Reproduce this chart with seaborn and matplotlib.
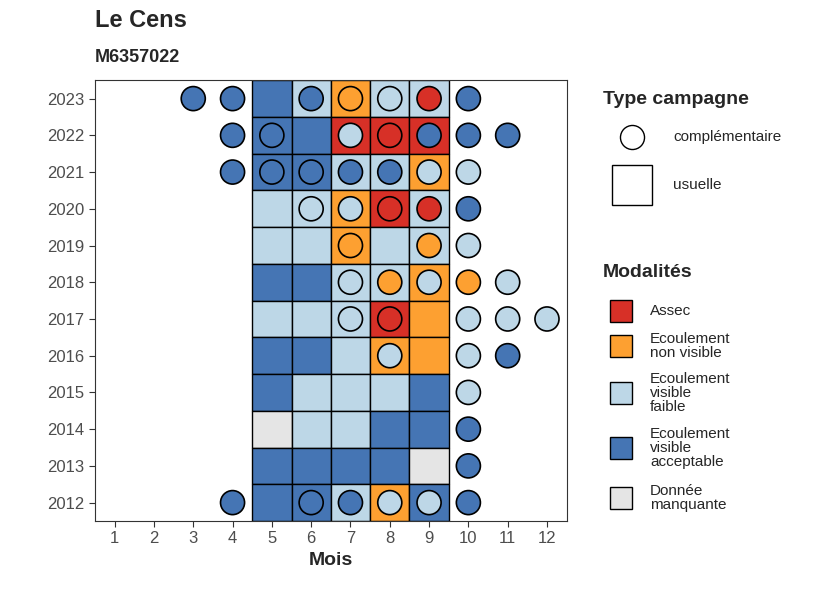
import matplotlib.pyplot as plt
import matplotlib.patches as mpatches
import pandas as pd
import seaborn as sns

colors = {"A": "#D73027", "N": "#FDA031", "F": "#BDD7E7", "V": "#4575B4", "M": "#E5E5E5"}
labels = {"A": "Assec", "N": "Ecoulement\nnon visible", "F": "Ecoulement\nvisible\nfaible",
          "V": "Ecoulement\nvisible\nacceptable", "M": "Donnée\nmanquante"}

years = list(range(2012, 2024))
square_months = [5, 6, 7, 8, 9]
# usual campaigns, months 5..9, per year 2012..2023
squares = {
    2023: "VFNFF", 2022: "VVAAA", 2021: "VVFFN", 2020: "FFNAF",
    2019: "FFNFF", 2018: "VVFFN", 2017: "FFFAN", 2016: "VVFNN",
    2015: "VFFFV", 2014: "MFFVV", 2013: "VVVVM", 2012: "VVFNV",
}
# complementary campaigns: (month, code)
circles = {
    2023: [(3, "V"), (4, "V"), (6, "V"), (7, "N"), (8, "F"), (9, "A"), (10, "V")],
    2022: [(4, "V"), (5, "V"), (7, "F"), (8, "A"), (9, "V"), (10, "V"), (11, "V")],
    2021: [(4, "V"), (5, "V"), (6, "V"), (7, "V"), (8, "V"), (9, "F"), (10, "F")],
    2020: [(6, "F"), (7, "F"), (8, "A"), (9, "A"), (10, "V")],
    2019: [(7, "N"), (9, "N"), (10, "F")],
    2018: [(7, "F"), (8, "N"), (9, "F"), (10, "N"), (11, "F")],
    2017: [(7, "F"), (8, "A"), (10, "F"), (11, "F"), (12, "F")],
    2016: [(8, "F"), (10, "F"), (11, "V")],
    2015: [(10, "F")],
    2014: [(10, "V")],
    2013: [(10, "V")],
    2012: [(4, "V"), (6, "V"), (7, "V"), (8, "F"), (9, "F"), (10, "V")],
}

sq = pd.DataFrame([(m, y, c) for y, s in squares.items() for m, c in zip(square_months, s)],
                  columns=["mois", "annee", "code"])
ci = pd.DataFrame([(m, y, c) for y, l in circles.items() for m, c in l],
                  columns=["mois", "annee", "code"])

sns.set_style("white")
plt.rcParams["font.family"] = ["Liberation Sans", "DejaVu Sans"]
fig = plt.figure(figsize=(8.26, 5.9), dpi=100)
ax = fig.add_axes([0.115, 0.117, 0.571, 0.747])

ax.bar(sq["mois"], 1, width=1, bottom=sq["annee"] - 0.5,
       color=[colors[c] for c in sq["code"]], edgecolor="black", linewidth=1, zorder=2)
sns.scatterplot(data=ci, x="mois", y="annee", hue="code", palette=colors, s=300,
                edgecolor="black", linewidth=1.2, legend=False, ax=ax, zorder=3)

ax.set_xlim(0.5, 12.5)
ax.set_ylim(2011.5, 2023.5)
ax.set_xticks(range(1, 13))
ax.set_yticks(years)
ax.tick_params(axis="both", length=4, color="#333333", labelsize=12, labelcolor="#4d4d4d", direction="out",
               bottom=True, left=True)
ax.set_xlabel("Mois", fontsize=14, fontweight="bold")
ax.set_ylabel("")
for s in ax.spines.values():
    s.set_color("#333333")
    s.set_linewidth(0.8)

fig.text(0.115, 0.965, "Le Cens", fontsize=17, fontweight="bold", va="center")
fig.text(0.115, 0.903, "M6357022", fontsize=13, fontweight="bold", va="center")

# legends
W, H = 826, 590
def fx(px): return px / W
def fy(py): return 1 - py / H

fig.text(fx(603), fy(99), "Type campagne", fontsize=14, fontweight="bold", va="center")
lax = fig.add_axes([0, 0, 1, 1], facecolor="none")
lax.set_xlim(0, W); lax.set_ylim(H, 0); lax.axis("off")
lax.scatter([632], [137], s=300, facecolor="white", edgecolor="black", linewidth=1)
fig.text(fx(673), fy(137), "complémentaire", fontsize=11, va="center")
lax.add_patch(mpatches.Rectangle((612, 165), 40, 40, facecolor="white", edgecolor="black", lw=1))
fig.text(fx(673), fy(185), "usuelle", fontsize=11, va="center")

fig.text(fx(603), fy(272), "Modalités", fontsize=14, fontweight="bold", va="center")
for code, yc in zip(["A", "N", "F", "V", "M"], [311, 346, 393, 448, 498]):
    lax.add_patch(mpatches.Rectangle((610, yc - 11), 22, 22, facecolor=colors[code],
                                     edgecolor="black", lw=1))
    fig.text(fx(650), fy(yc), labels[code], fontsize=11, va="center", linespacing=1.0)

fig.savefig("out.png", dpi=100)
